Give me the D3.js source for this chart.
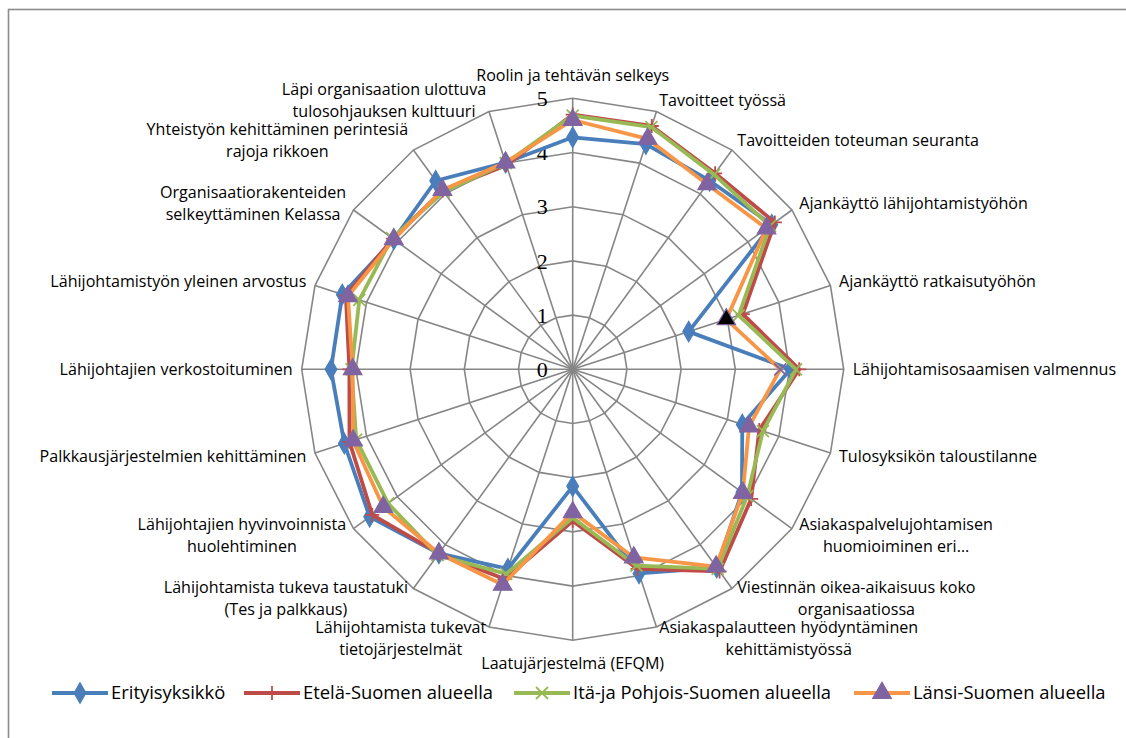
<!DOCTYPE html>
<html>
<head>
<meta charset="utf-8">
<script src="https://cdn.jsdelivr.net/npm/d3@7"></script>
<style>
  html, body { margin: 0; padding: 0; background: #fff; }
  svg { display: block; }
</style>
</head>
<body>
<svg id="chart" width="1126" height="738"></svg>
<script>
// ---- Data ----
const categories = [
  "Roolin ja tehtävän selkeys",
  "Tavoitteet työssä",
  "Tavoitteiden toteuman seuranta",
  "Ajankäyttö lähijohtamistyöhön",
  "Ajankäyttö ratkaisutyöhön",
  "Lähijohtamisosaamisen valmennus",
  "Tulosyksikön taloustilanne",
  "Asiakaspalvelujohtamisen\nhuomioiminen eri…",
  "Viestinnän oikea-aikaisuus koko\norganisaatiossa",
  "Asiakaspalautteen hyödyntäminen\nkehittämistyössä",
  "Laatujärjestelmä (EFQM)",
  "Lähijohtamista tukevat\ntietojärjestelmät",
  "Lähijohtamista tukeva taustatuki\n(Tes ja palkkaus)",
  "Lähijohtajien hyvinvoinnista\nhuolehtiminen",
  "Palkkausjärjestelmien kehittäminen",
  "Lähijohtajien verkostoituminen",
  "Lähijohtamistyön yleinen arvostus",
  "Organisaatiorakenteiden\nselkeyttäminen Kelassa",
  "Yhteistyön kehittäminen perintesiä\nrajoja rikkoen",
  "Läpi organisaation ulottuva\ntulosohjauksen kulttuuri"
];
const seriesNames = ["Erityisyksikkö", "Etelä-Suomen alueella", "Itä-ja Pohjois-Suomen alueella", "Länsi-Suomen alueella"];
const erityisyksikko = [4.28, 4.37, 4.30, 4.54, 2.25, 4.02, 3.29, 3.86, 4.52, 3.96, 2.16, 3.87, 4.20, 4.63, 4.43, 4.46, 4.47, 4.08, 4.30, 4.01];
const etelaSuomi     = [4.70, 4.72, 4.47, 4.61, 3.30, 4.18, 3.62, 4.07, 4.61, 3.87, 2.80, 4.07, 4.20, 4.57, 4.33, 4.12, 4.40, 4.10, 4.08, 3.96];
const itaPohjois     = [4.68, 4.70, 4.44, 4.50, 3.22, 4.12, 3.69, 3.98, 4.55, 3.81, 2.74, 3.97, 4.24, 4.21, 4.20, 4.08, 4.14, 4.12, 4.05, 4.00];
const lansiSuomi     = [4.60, 4.47, 4.22, 4.42, 2.98, 3.83, 3.42, 3.88, 4.50, 3.65, 2.64, 4.18, 4.20, 4.32, 4.26, 4.06, 4.36, 4.08, 4.09, 4.01];
const tickValues = [0, 1, 2, 3, 4, 5];

// ---- Styles ----
const colors = ["#4A7EBB", "#BE4B48", "#98B954", "#F79646"];
const markerTypes = ["diamond", "plus", "x", "triangle"];
const markerColors = ["#4A7EBB", "#BE4B48", "#98B954", "#8064A2"];
// individual point formatting seen in the original (series 3)
const pointOverrides = { "3-4": { type: "triangle", fill: "#000", stroke: "#8064A2" }, "3-5": { type: "x", stroke: "#8064A2" } };
const gridColor = "#868686";
const labelFont = "'Open Sans', Lato, sans-serif";

const svg = d3.select("#chart");
const W = 1126, H = 738;
const cx = 572.7, cy = 369.3, R = 271;

// Frame
svg.append("rect").attr("x", 8.5).attr("y", 9.5).attr("width", W + 10).attr("height", H + 10)
  .attr("fill", "#fff").attr("stroke", "#8c8c8c").attr("stroke-width", 1.6);

const r = d3.scaleLinear().domain([0, 5]).range([0, R]);
const n = categories.length;
const angle = d3.scaleLinear().domain([0, n]).range([0, 2 * Math.PI]);

const g = svg.append("g").attr("transform", `translate(${cx},${cy})`);

// Grid rings
tickValues.filter(v => v > 0).forEach(v => {
  g.append("path")
    .attr("d", d3.lineRadial().angle((d, i) => angle(i)).radius(() => r(v)).curve(d3.curveLinearClosed)(categories))
    .attr("fill", "none").attr("stroke", gridColor).attr("stroke-width", 1.6);
});
// Spokes
categories.forEach((c, i) => {
  const a = angle(i);
  g.append("line").attr("x1", 0).attr("y1", 0)
    .attr("x2", r(5) * Math.sin(a)).attr("y2", -r(5) * Math.cos(a))
    .attr("stroke", gridColor).attr("stroke-width", 1.6);
});

// Tick labels
tickValues.forEach(v => {
  g.append("text").attr("x", -25).attr("y", -r(v)).attr("dy", "0.35em")
    .attr("text-anchor", "end")
    .attr("font-family", "'Liberation Serif', 'Times New Roman', serif")
    .attr("font-size", 22).attr("fill", "#000").text(v);
});

// Category labels
const labelFontSize = 16.1;
const lineH = 22;
categories.forEach((c, i) => {
  const a = angle(i);
  const dx = Math.sin(a), dy = -Math.cos(a);
  const pad = Math.abs(dy) > 0.99 ? 12 : 9;
  const ax = (r(5) + pad) * dx, ay = (r(5) + pad) * dy;
  const lines = c.split("\n");
  const t = g.append("text").attr("font-family", labelFont).attr("font-size", labelFontSize).attr("fill", "#000");
  lines.forEach(ln => t.append("tspan").text(ln));
  const widths = [];
  t.selectAll("tspan").each(function () { widths.push(this.getComputedTextLength()); });
  const bw = d3.max(widths);
  const bh = lines.length * lineH;
  let bx;
  if (Math.abs(dx) < 0.05) bx = ax - bw / 2;
  else if (dx > 0) bx = ax;
  else bx = ax - bw;
  let by;
  if (Math.abs(dy) > 0.99) by = dy < 0 ? ay - bh : ay;
  else by = ay - bh / 2 + dy * 3;
  t.selectAll("tspan").each(function (d, k) {
    d3.select(this).attr("x", bx + bw / 2).attr("y", by + k * lineH + lineH / 2).attr("dy", "0.35em");
  });
  t.attr("text-anchor", "middle");
});

// Markers
function markerPath(type) {
  switch (type) {
    case "diamond": return d3.symbol().type(d3.symbolDiamond).size(120)();
    case "triangle": return d3.symbol().type(d3.symbolTriangle).size(150)();
    case "plus": return "M-7,0H7M0,-7V7";
    case "x": return "M-6,-6L6,6M-6,6L6,-6";
  }
}
function drawMarker(sel, k, ov) {
  const t = (ov && ov.type) || markerTypes[k];
  const stroke = (ov && ov.stroke) || markerColors[k];
  const fill = (ov && ov.fill) || markerColors[k];
  const p = sel.append("path").attr("d", markerPath(t));
  if (t === "plus" || t === "x") p.attr("fill", "none").attr("stroke", stroke).attr("stroke-width", 1.8);
  else p.attr("fill", fill).attr("stroke", stroke).attr("stroke-width", 1.2);
  return p;
}

const allSeries = [erityisyksikko, etelaSuomi, itaPohjois, lansiSuomi];
const radialLine = d3.lineRadial().angle((d, i) => angle(i)).radius(d => r(d)).curve(d3.curveLinearClosed);
allSeries.forEach((vals, k) => {
  g.append("path").attr("d", radialLine(vals))
    .attr("fill", "none").attr("stroke", colors[k]).attr("stroke-width", 3.8).attr("stroke-linejoin", "round");
  vals.forEach((v, i) => {
    const a = angle(i);
    const mg = g.append("g").attr("transform", `translate(${r(v) * Math.sin(a)},${-r(v) * Math.cos(a)})`);
    drawMarker(mg, k, pointOverrides[`${k}-${i}`]);
  });
});

// Legend
const legendX = [52, 244, 514, 854];
const legendY = 693;
seriesNames.forEach((name, k) => {
  const lg = svg.append("g").attr("transform", `translate(${legendX[k]},${legendY})`);
  lg.append("line").attr("x1", 0).attr("x2", 56).attr("y1", 0).attr("y2", 0)
    .attr("stroke", colors[k]).attr("stroke-width", 3.8);
  const mg = lg.append("g").attr("transform", "translate(28,0)");
  drawMarker(mg, k);
  lg.append("text").attr("x", 59).attr("y", 0).attr("dy", "0.35em")
    .attr("font-family", labelFont).attr("font-size", 18.4).attr("fill", "#000").text(name);
});
</script>
</body>
</html>
